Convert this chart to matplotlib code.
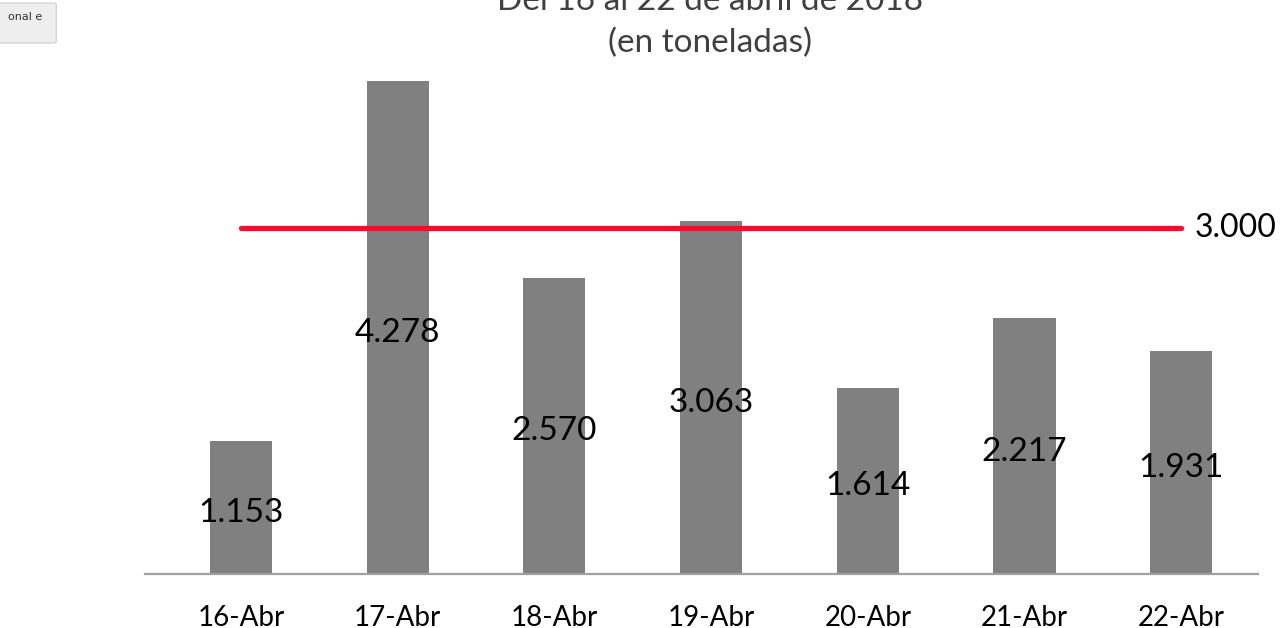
import matplotlib
matplotlib.use('Agg')
import matplotlib.pyplot as plt
from matplotlib.patches import FancyBboxPatch
import numpy as np

# data
dias = ['16-Abr', '17-Abr', '18-Abr', '19-Abr', '20-Abr', '21-Abr', '22-Abr']
toneladas = [1.153, 4.278, 2.570, 3.063, 1.614, 2.217, 1.931]
limite = 3.000

plt.rcParams['font.family'] = ['Lato', 'DejaVu Sans']

fig = plt.figure(figsize=(12.8, 6.28), dpi=100)
ax = fig.add_axes([0.1133, 0.0860, 0.8695, 0.7898])

x = np.arange(len(dias))
bars = ax.bar(x, toneladas, width=0.396, color='#808080', zorder=2)

# labels sit in the middle of each bar
for xi, v in zip(x, toneladas):
    ax.annotate(f'{v:.3f}', (xi, v / 2), xytext=(0, -4), textcoords='offset points',
                ha='center', va='center', fontsize=24, color='black', zorder=4)

ax.plot([x[0], x[-1]], [limite, limite], color='#FF0A2A', lw=3.8,
        solid_capstyle='round', zorder=3)
ax.annotate(f'{limite:.3f}', (x[-1], limite), xytext=(10, 0), textcoords='offset points',
            ha='left', va='center', fontsize=23, color='black', annotation_clip=False)

ax.set_xlim(-0.613, 6.49)
ax.set_ylim(0, 4.3)
ax.set_xticks(x)
ax.set_xticklabels(dias, fontsize=20)
ax.tick_params(axis='x', length=0, pad=22)
ax.set_yticks([])
for s in ['top', 'right', 'left']:
    ax.spines[s].set_visible(False)
ax.spines['bottom'].set_color('#A0A0A0')
ax.spines['bottom'].set_linewidth(1.6)

# title (first line runs off the top edge, as in the source)
fig.text(0.555, 1 - 10 / 628, 'Del 16 al 22 de abril de 2018', ha='center',
         va='baseline', fontsize=24, color='#404040')
fig.text(0.555, 1 - 52 / 628, '(en toneladas)', ha='center',
         va='baseline', fontsize=24, color='#404040')

# small button in the top-left corner
btn = FancyBboxPatch((-0.01, 1 - 43 / 628), 0.054, 40 / 628,
                     boxstyle='round,pad=0,rounding_size=0.003',
                     transform=fig.transFigure, facecolor='#EEEEEE',
                     edgecolor='#D4D4D4', lw=1)
fig.patches.append(btn)
fig.text(8 / 1280, 1 - 17 / 628, 'onal e', ha='left', va='center',
         fontsize=8, color='#333333', family=['DejaVu Sans'])

fig.savefig('out.png', dpi=100)
